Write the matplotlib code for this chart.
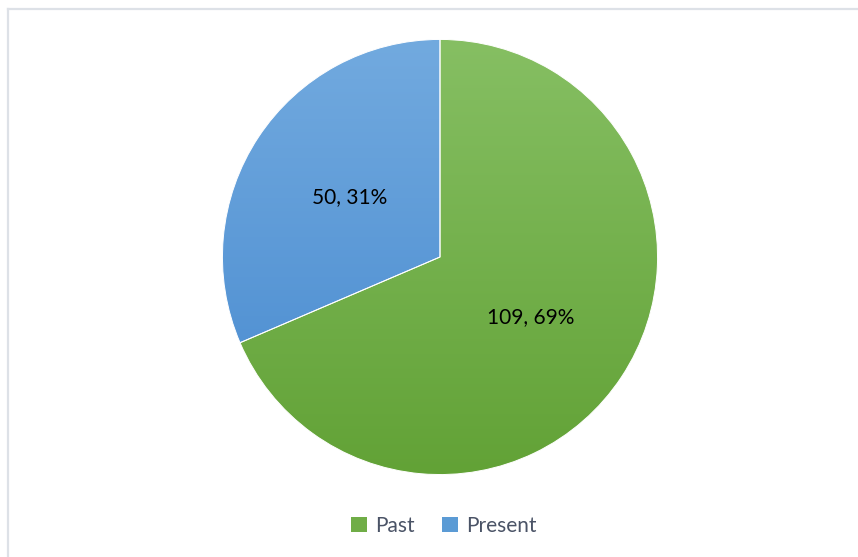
import numpy as np
import matplotlib
matplotlib.use("Agg")
import matplotlib.pyplot as plt
from matplotlib.patches import Patch
from matplotlib.lines import Line2D
from matplotlib.colors import LinearSegmentedColormap

plt.rcParams['font.family'] = ['Lato', 'DejaVu Sans']

categories = ["Past", "Present"]
values = [109, 50]
base_colors = ["#70ad47", "#5b9bd5"]
gradients = [("#86bf63", "#62a236"), ("#72aadf", "#4689cf")]

fig = plt.figure(figsize=(8.58, 5.57), dpi=100)
fig.patch.set_facecolor("white")

# chart-area frame (top and left edges visible)
fig.add_artist(Line2D([8 / 858, 8 / 858], [0, 1 - 9 / 557], transform=fig.transFigure,
                      color="#dde1e7", lw=1.6))
fig.add_artist(Line2D([8 / 858, 1], [1 - 9 / 557, 1 - 9 / 557], transform=fig.transFigure,
                      color="#dde1e7", lw=1.6))

cx, cy, r = 440, 257, 218
ax = fig.add_axes([(cx - r) / 858, (557 - cy - r) / 557, 2 * r / 858, 2 * r / 557])
ax.set_aspect("equal")
ax.axis("off")

total = sum(values)
label_texts = iter(f"{v}, {round(v / total * 100)}%" for v in values)

wedges, texts, autotexts = ax.pie(
    values, startangle=90, counterclock=False, colors=base_colors, radius=1,
    autopct=lambda p: next(label_texts), pctdistance=0.5,
    wedgeprops=dict(edgecolor="white", linewidth=0.7),
    textprops=dict(fontsize=15, color="black"),
)

# vertical gradient fill clipped to each wedge
grad = np.linspace(0, 1, 256).reshape(-1, 1)
for w, (top, bottom) in zip(wedges, gradients):
    cmap = LinearSegmentedColormap.from_list("g", [top, bottom])
    im = ax.imshow(grad, extent=[-1, 1, -1, 1], origin="upper", cmap=cmap,
                   aspect="auto", zorder=1.5, interpolation="bilinear")
    im.set_clip_path(w)
    w.set_facecolor("none")
    w.set_zorder(3)
for t in autotexts:
    t.set_zorder(4)
ax.set_xlim(-1.002, 1.002)
ax.set_ylim(-1.002, 1.002)

handles = [Patch(facecolor=c, edgecolor="none") for c in base_colors]
fig.legend(handles, categories, loc="center", bbox_to_anchor=(444 / 858, 1 - 526 / 557),
           ncol=2, frameon=False, fontsize=15, labelcolor="#4a5366",
           handlelength=0.75, handleheight=0.75, handletextpad=0.4, columnspacing=1.3)

fig.savefig("out.png", dpi=100, facecolor="white")
